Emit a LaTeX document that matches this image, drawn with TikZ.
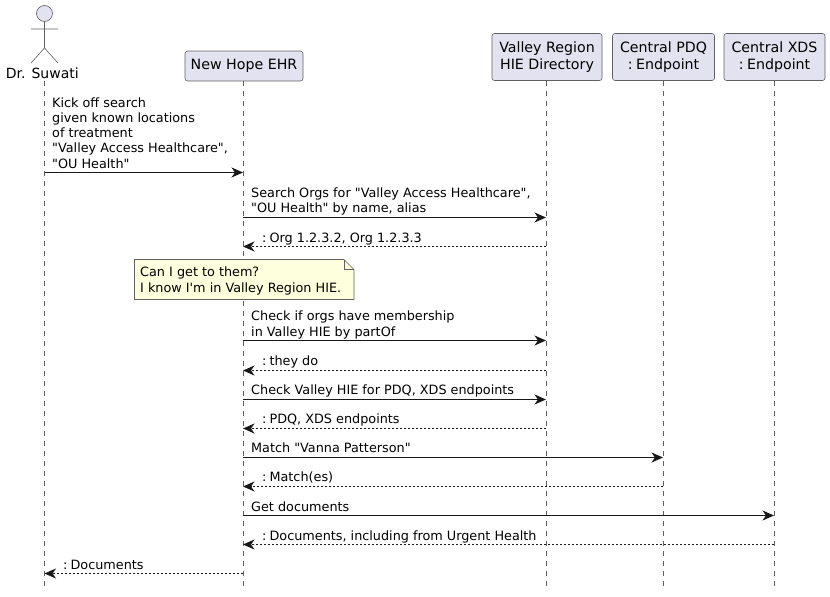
\documentclass[tikz,border=0pt]{standalone}
\usepackage{fontspec}
\setmainfont{DejaVu Sans}[Ligatures=TeXOff]
\usetikzlibrary{arrows.meta,calc,shapes.misc}
\definecolor{boxfill}{HTML}{E2E2F0}
\definecolor{notefill}{HTML}{FEFFDD}
\definecolor{ink}{HTML}{181818}
\definecolor{soft}{HTML}{606060}
\newcommand{\colonsep}{:\kern-1pt\ }
\tikzset{
  participant/.style={draw=soft,line width=0.6pt,fill=boxfill,rounded corners=2.5pt,align=center,inner sep=0pt,font=\fontsize{14.2}{16.4}\selectfont,text=black},
  lifeline/.style={draw=soft,line width=0.5pt,dash pattern=on 5pt off 5pt},
  actorline/.style={draw=soft,line width=0.6pt},
  msgline/.style={draw=ink,line width=0.9pt,-{Stealth[length=11.5pt,width=10pt,inset=3.5pt]}},
  retline/.style={msgline,dash pattern=on 2pt off 2pt},
  msgtext/.style={anchor=base west,inner sep=0pt,align=left,font=\fontsize{12.8}{15.25}\selectfont,text=black},
}
\newcommand{\msgat}[5][msgline]{%
  \coordinate (#2s) at (#3 |- 0,#5);
  \coordinate (#2e) at (#4 |- 0,#5);
  \draw[#1] (#2s) -- (#2e);
}
\begin{document}
\begin{tikzpicture}[x=1pt,y=-1pt]
\useasboundingbox (0,0) rectangle (830,597);
% participants
\node[participant,minimum width=118pt,minimum height=30pt] (ehr) at (244,66) {New Hope EHR};
\node[participant,minimum width=110pt,minimum height=47pt] (dir) at (547,57) {Valley Region\\HIE Directory};
\node[participant,minimum width=102pt,minimum height=47pt] (pdq) at (663.5,57) {Central PDQ\\\colonsep Endpoint};
\node[participant,minimum width=101pt,minimum height=47pt] (xds) at (774.5,57) {Central XDS\\\colonsep Endpoint};
% actor
\coordinate (hip) at (44.5,48);
\coordinate (armL) at (31,29);
\coordinate (armR) at (58,29);
\coordinate (legL) at (31,63);
\coordinate (legR) at (58,63);
\node[circle,draw=soft,line width=0.6pt,fill=boxfill,minimum size=16pt,inner sep=0pt] (head) at (44.5,13.5) {};
\draw[actorline] (head.south) -- (hip) (armL) -- (armR) (hip) -- (legL) (hip) -- (legR);
\node[msgtext,anchor=base,font=\fontsize{14}{16}\selectfont] (actor) at (42.3,78.5) {Dr. Suwati};
% lifelines
\coordinate (actorTop) at (44.5,81);
\coordinate (actorEnd) at (44.5,586);
\coordinate (ehrEnd) at (243,586);
\coordinate (dirEnd) at (546,586);
\coordinate (pdqEnd) at (663,586);
\coordinate (xdsEnd) at (774,586);
\coordinate (ehrTop) at (243,81);
\coordinate (dirTop) at (546,81);
\coordinate (pdqTop) at (663,81);
\coordinate (xdsTop) at (774,81);
\draw[lifeline] (actorTop) -- (actorEnd);
\draw[lifeline] (ehrTop) -- (ehrEnd);
\draw[lifeline] (dirTop) -- (dirEnd);
\draw[lifeline] (pdqTop) -- (pdqEnd);
\draw[lifeline] (xdsTop) -- (xdsEnd);
% messages
\msgat{m1}{actorTop}{ehrTop}{172.5}
\node[msgtext] (t1) at (52,168) {Kick off search\\given known locations\\of treatment\\"Valley Access Healthcare",\\"OU Health"};
\msgat{m2}{ehrTop}{dirTop}{217.5}
\node[msgtext] (t2) at (251,212.5) {Search Orgs for "Valley Access Healthcare",\\"OU Health" by name, alias};
\msgat[retline]{m3}{dirTop}{ehrTop}{246.5}
\node[msgtext] (t3) at (262,242) {\colonsep Org 1.2.3.2, Org 1.2.3.3};
% note
\path[draw=soft,line width=0.6pt,fill=notefill] (134.5,259.5) -- (344,259.5) -- (354,269.5) -- (354,299.5) -- (134.5,299.5) -- cycle;
\draw[draw=soft,line width=0.6pt] (344,259.5) -- (344,269.5) -- (354,269.5);
\node[msgtext] (n) at (140,292) {Can I get to them?\\I know I'm in Valley Region HIE.};
\msgat{m4}{ehrTop}{dirTop}{340.5}
\node[msgtext] (t4) at (251,336) {Check if orgs have membership\\in Valley HIE by partOf};
\msgat[retline]{m5}{dirTop}{ehrTop}{370.5}
\node[msgtext] (t5) at (262,365) {\colonsep they do};
\msgat{m6}{ehrTop}{dirTop}{399.5}
\node[msgtext] (t6) at (251,394) {Check Valley HIE for PDQ, XDS endpoints};
\msgat[retline]{m7}{dirTop}{ehrTop}{428.5}
\node[msgtext] (t7) at (262,423) {\colonsep PDQ, XDS endpoints};
\msgat{m8}{ehrTop}{pdqTop}{457.5}
\node[msgtext] (t8) at (251,452) {Match "Vanna Patterson"};
\msgat[retline]{m9}{pdqTop}{ehrTop}{486.5}
\node[msgtext] (t9) at (262,481) {\colonsep Match(es)};
\msgat{m10}{ehrTop}{xdsTop}{515.5}
\node[msgtext] (t10) at (251,511) {Get documents};
\msgat[retline]{m11}{xdsTop}{ehrTop}{544.5}
\node[msgtext] (t11) at (262,540) {\colonsep Documents, including from Urgent Health};
\msgat[retline]{m12}{ehrTop}{actorTop}{573.5}
\node[msgtext] (t12) at (63,569) {\colonsep Documents};
\end{tikzpicture}
\end{document}
